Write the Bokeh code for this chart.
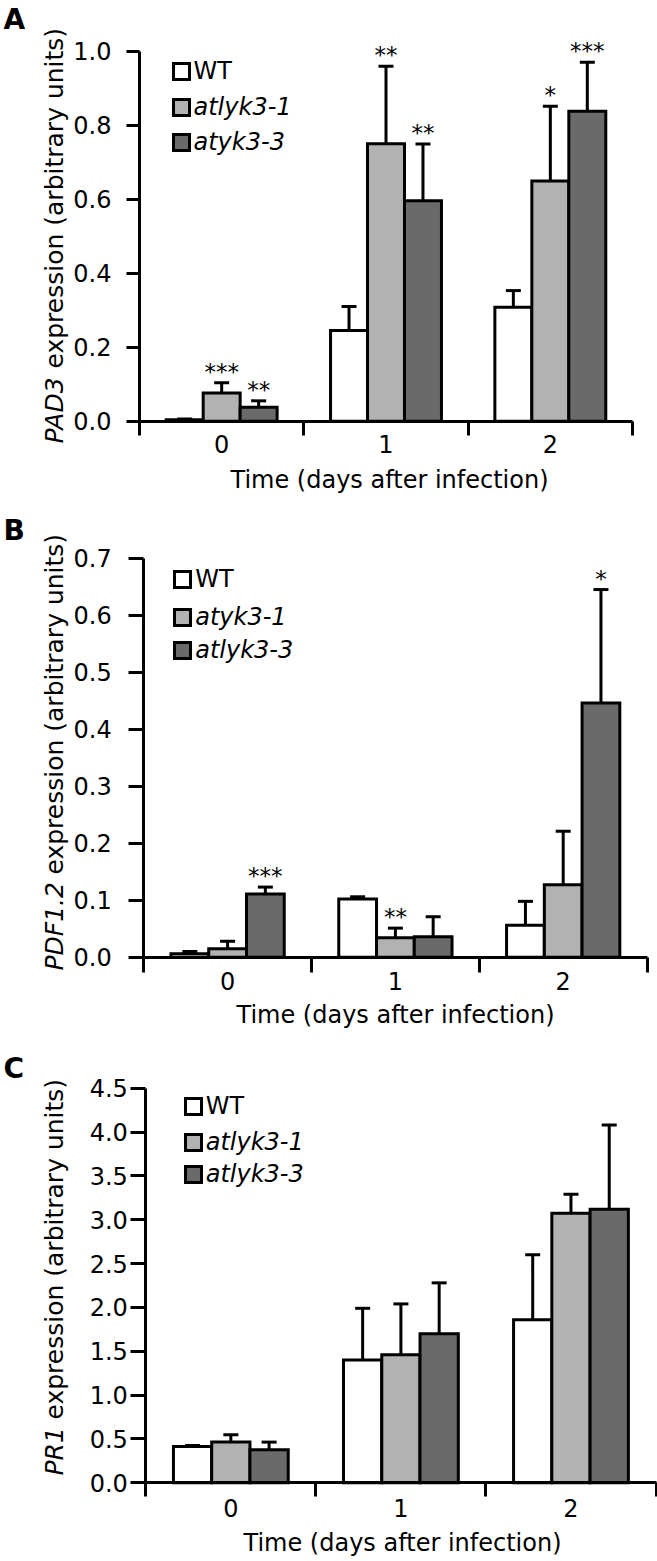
import math
from bokeh.plotting import figure
from bokeh.models import (Range1d, FixedTicker, PrintfTickFormatter, Whisker, TeeHead,
                          ColumnDataSource, Legend, LegendItem, Label)
from bokeh.layouts import column
from bokeh.core.properties import value
from bokeh.embed import file_html
from bokeh.resources import INLINE

FONT = "DejaVu Sans"
days = ["0", "1", "2"]
x_title = "Time (days after infection)"
fills = ["#ffffff", "#b2b2b2", "#6a6a6a"]

# ---------------- Panel A : PAD3 ----------------
a_gene = "PAD3"
a_names = ["WT", "atlyk3-1", "atyk3-3"]
a_wt = [0.004, 0.245, 0.308]
a_wt_err = [0.002, 0.065, 0.045]
a_m1 = [0.076, 0.750, 0.649]
a_m1_err = [0.028, 0.209, 0.202]
a_m3 = [0.038, 0.596, 0.838]
a_m3_err = [0.017, 0.153, 0.132]
a_wt_sig = ["", "", ""]
a_m1_sig = ["***", "**", "*"]
a_m3_sig = ["**", "**", "***"]
a_yticks = [0.0, 0.2, 0.4, 0.6, 0.8, 1.0]

# ---------------- Panel B : PDF1.2 ----------------
b_gene = "PDF1.2"
b_names = ["WT", "atyk3-1", "atlyk3-3"]
b_wt = [0.006, 0.102, 0.056]
b_wt_err = [0.004, 0.004, 0.042]
b_m1 = [0.015, 0.034, 0.127]
b_m1_err = [0.013, 0.017, 0.094]
b_m3 = [0.111, 0.036, 0.446]
b_m3_err = [0.012, 0.035, 0.199]
b_wt_sig = ["", "", ""]
b_m1_sig = ["", "**", ""]
b_m3_sig = ["***", "", "*"]
b_yticks = [0.0, 0.1, 0.2, 0.3, 0.4, 0.5, 0.6, 0.7]

# ---------------- Panel C : PR1 ----------------
c_gene = "PR1"
c_names = ["WT", "atlyk3-1", "atlyk3-3"]
c_wt = [0.414, 1.40, 1.86]
c_wt_err = [0.012, 0.59, 0.74]
c_m1 = [0.464, 1.46, 3.075]
c_m1_err = [0.083, 0.58, 0.215]
c_m3 = [0.376, 1.70, 3.12]
c_m3_err = [0.088, 0.58, 0.96]
c_wt_sig = ["", "", ""]
c_m1_sig = ["", "", ""]
c_m3_sig = ["", "", ""]
c_yticks = [0.0, 0.5, 1.0, 1.5, 2.0, 2.5, 3.0, 3.5, 4.0, 4.5]

W = 657
ORIGIN = 0
DESC = 0.25  # baseline correction (fraction of font size)


def panel(letter, gene, names, means, errs, sigs, yticks, g):
    top, h = g["top"], g["h"]
    l = g["L"] - ORIGIN
    r = g["R"] - ORIGIN
    b = g["B"] - top
    ymax = yticks[-1]
    ppu = (g["B"] - g["ytop"]) / ymax
    ppx = (r - l) / 3.0

    def xd(px):
        return (px - g["L"]) / ppx

    def yd(py):
        return (g["B"] - py) / ppu

    p = figure(width=W, height=h,
               x_range=Range1d(-l / ppx, (W - l) / ppx),
               y_range=Range1d(-(h - b) / ppu, b / ppu),
               output_backend="svg", toolbar_location=None, tools="",
               min_border_left=0, min_border_right=0, min_border_top=0, min_border_bottom=0)
    p.grid.visible = False
    p.outline_line_color = None
    p.background_fill_color = "white"
    p.border_fill_color = "white"

    # x axis, drawn at y = 0
    xa = p.xaxis[0]
    xa.fixed_location = 0
    xa.ticker = FixedTicker(ticks=[0.5, 1.5, 2.5], minor_ticks=[0, 1, 2, 3])
    xa.bounds = (0, 3)
    xa.major_label_overrides = {0.5: days[0], 1.5: days[1], 2.5: days[2]}
    xa.major_tick_out = 0
    xa.major_tick_in = 0
    xa.major_tick_line_color = None
    xa.minor_tick_out = g["xtick"]
    xa.minor_tick_in = 0
    xa.minor_tick_line_width = 3
    xa.minor_tick_line_color = "black"
    xa.axis_line_width = 3
    xa.axis_line_color = "black"
    xa.major_label_text_font = FONT
    xa.major_label_text_font_size = "24px"
    xa.major_label_text_color = "black"
    xa.major_label_standoff = g["xls"]

    # y axis, drawn at x = 0
    ya = p.yaxis[0]
    ya.fixed_location = 0
    ya.ticker = FixedTicker(ticks=yticks, minor_ticks=[])
    ya.bounds = (0, ymax)
    ya.formatter = PrintfTickFormatter(format="%.1f")
    ya.major_tick_out = g["ytick"]
    ya.major_tick_in = 0
    ya.major_tick_line_width = 3
    ya.major_tick_line_color = "black"
    ya.axis_line_width = 3
    ya.axis_line_color = "black"
    ya.major_label_text_font = FONT
    ya.major_label_text_font_size = "24px"
    ya.major_label_text_color = "black"
    ya.major_label_standoff = g["yls"]

    offsets = [-0.225, 0.0, 0.225]
    rs = []
    for k in range(3):
        xs = [i + 0.5 + offsets[k] for i in range(3)]
        up = [m + e for m, e in zip(means[k], errs[k])]
        src = ColumnDataSource(dict(x=xs, top=means[k], upper=up, sig=sigs[k]))
        wh = Whisker(source=src, base="x", lower="top", upper="upper", dimension="height",
                     line_width=3, line_color="black", lower_head=None,
                     upper_head=TeeHead(size=15, line_width=3, line_color="black"))
        p.add_layout(wh)
        r_ = p.vbar(x="x", top="top", width=0.225, source=src, fill_color=fills[k],
                    line_color="black", line_width=3, line_join="miter")
        rs.append(r_)
        p.text(x="x", y="upper", text="sig", source=src, text_align="center",
               text_baseline="alphabetic", y_offset=-11, text_font=value(FONT),
               text_font_size="23px", text_color="black")

    # legends (plain WT, italic mutant lines)
    item_h = 28
    sq_left = g["leg_left"]
    tops = [t - 5 for t in g["leg_tops"]]
    common = dict(glyph_width=20, glyph_height=20, label_standoff=3, padding=0, margin=0,
                  border_line_color=None, background_fill_alpha=0,
                  label_text_font=FONT, label_text_font_size="24px", label_text_color="black")
    vx = sq_left - 0.5 - ORIGIN
    fig_bottom = top + h
    leg1 = Legend(items=[LegendItem(label=value(names[0]), renderers=[rs[0]])],
                  location=(vx, fig_bottom - (tops[0] + item_h)), **common)
    sp = (tops[2] - tops[1]) - item_h
    leg2 = Legend(items=[LegendItem(label=value(names[1]), renderers=[rs[1]]),
                         LegendItem(label=value(names[2]), renderers=[rs[2]])],
                  location=(vx, fig_bottom - (tops[1] + 2 * item_h + sp)), spacing=round(sp),
                  label_text_font_style="italic", **common)
    p.add_layout(leg1)
    p.add_layout(leg2)

    # panel letter
    p.add_layout(Label(x=xd(3), y=yd(g["let_base"] - DESC * 28), text=letter, text_font=FONT,
                       text_font_size="28px", text_font_style="bold", text_color="black",
                       text_baseline="alphabetic", text_align="left"))

    # x axis title
    p.add_layout(Label(x=xd(g["xt_center"]), y=yd(g["xt_base"] - DESC * 24), text=x_title,
                       text_font=FONT, text_font_size="24px", text_color="black",
                       text_baseline="alphabetic", text_align="center"))

    # y axis title (italic gene name + plain text), rotated
    yx = xd(60 - DESC * 25)
    p.add_layout(Label(x=yx, y=yd(g["ylab_bottom"]), text=gene, angle=math.pi / 2,
                       text_font=FONT, text_font_size="25px", text_font_style="italic",
                       text_color="black", text_baseline="alphabetic", text_align="left"))
    p.add_layout(Label(x=yx, y=yd(g["ylab_bottom"] - g["gene_w"] - 8),
                       text="expression (arbitrary units)",
                       angle=math.pi / 2, text_font=FONT, text_font_size="25px",
                       text_font_style="normal", text_color="black",
                       text_baseline="alphabetic", text_align="left"))
    return p


gA = dict(top=0, h=505, L=139, R=632, B=420.7, ytop=50.7, xtick=14, xls=0,
          ytick=13, yls=15, leg_left=171, leg_tops=[61.7, 98, 133], let_base=26,
          ylab_bottom=443, gene_w=67, xt_center=389, xt_base=485)
gB = dict(top=505, h=525, L=143.2, R=646.6, B=956.7, ytop=557.7, xtick=15, xls=0,
          ytick=15, yls=17, leg_left=172.7, leg_tops=[570, 607.3, 640.7], let_base=537,
          ylab_bottom=970, gene_w=88, xt_center=395, xt_base=1020)
gC = dict(top=1030, h=531, L=145.3, R=655.5, B=1482.3, ytop=1087.7, xtick=14, xls=2,
          ytick=15, yls=3, leg_left=183.2, leg_tops=[1097.3, 1132.7, 1165], let_base=1075,
          ylab_bottom=1475, gene_w=48, xt_center=402, xt_base=1548)

pA = panel("A", a_gene, a_names, [a_wt, a_m1, a_m3], [a_wt_err, a_m1_err, a_m3_err],
           [a_wt_sig, a_m1_sig, a_m3_sig], a_yticks, gA)
pB = panel("B", b_gene, b_names, [b_wt, b_m1, b_m3], [b_wt_err, b_m1_err, b_m3_err],
           [b_wt_sig, b_m1_sig, b_m3_sig], b_yticks, gB)
pC = panel("C", c_gene, c_names, [c_wt, c_m1, c_m3], [c_wt_err, c_m1_err, c_m3_err],
           [c_wt_sig, c_m1_sig, c_m3_sig], c_yticks, gC)

layout = column(pA, pB, pC, spacing=0)
open("out.html", "w").write(file_html(layout, INLINE))
